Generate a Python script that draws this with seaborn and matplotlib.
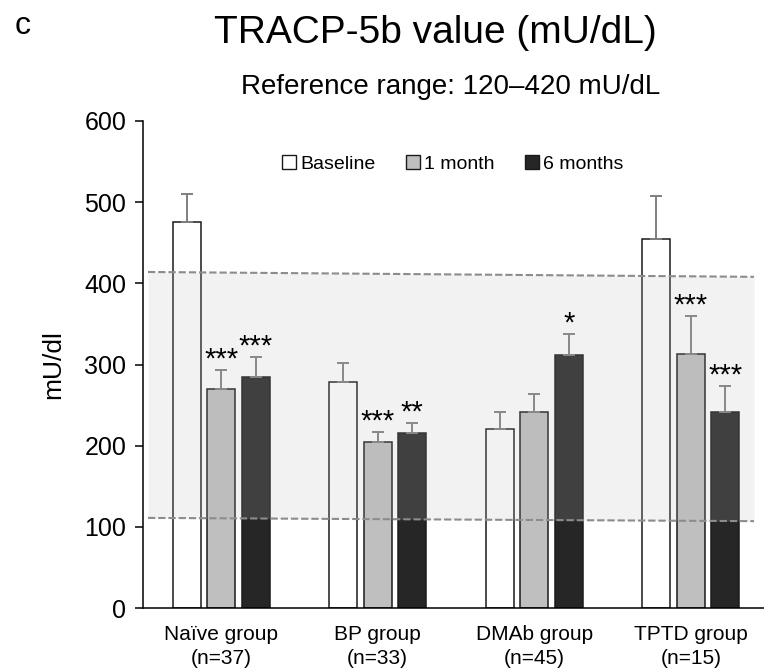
# plot.py - TRACP-5b grouped bar chart

import seaborn as sns
import matplotlib.pyplot as plt
import pandas as pd
import numpy as np
from matplotlib.patches import Patch

# data
groups = ['Naïve group\n(n=37)', 'BP group\n(n=33)', 'DMAb group\n(n=45)', 'TPTD group\n(n=15)']
timepoints = ['Baseline', '1 month', '6 months']
baseline = [475, 278, 220, 455]
month1 = [270, 204, 242, 313]
month6 = [285, 216, 312, 242]
baseline_err = [35, 24, 21, 52]
month1_err = [23, 13, 22, 47]
month6_err = [24, 12, 26, 32]
stars_baseline = ['', '', '', '']
stars_month1 = ['***', '***', '', '***']
stars_month6 = ['***', '**', '*', '***']
ref_upper = [414, 408]   # dashed upper limit, left -> right
ref_lower = [111, 107]   # dashed lower limit, left -> right

colors = ['#ffffff', '#bfbfbf', '#262626']

df = pd.DataFrame({
    'Group': groups * 3,
    'Time': [t for t in timepoints for _ in groups],
    'Value': baseline + month1 + month6,
})

sns.set_style('ticks')
plt.rcParams['font.family'] = ['Liberation Sans', 'DejaVu Sans']
plt.rcParams['text.color'] = 'black'
plt.rcParams['axes.labelcolor'] = 'black'
plt.rcParams['xtick.color'] = 'black'
plt.rcParams['ytick.color'] = 'black'

fig = plt.figure(figsize=(7.64, 6.72), dpi=100)
ax = fig.add_axes([143 / 764, 64 / 672, 626 / 764, 487 / 672])

sns.barplot(data=df, x='Group', y='Value', hue='Time', hue_order=timepoints,
            palette=colors, width=0.661, gap=0.2, errorbar=None,
            edgecolor='#1a1a1a', linewidth=1.1, legend=False, ax=ax, zorder=2)

# error bars (upper only) and significance stars
errs = [baseline_err, month1_err, month6_err]
vals = [baseline, month1, month6]
stars = [stars_baseline, stars_month1, stars_month6]
for cont, v, e, s in zip(ax.containers, vals, errs, stars):
    xs = [b.get_x() + b.get_width() / 2 for b in cont]
    ax.errorbar(xs, v, yerr=[np.zeros(len(v)), e], fmt='none', ecolor='#7f7f7f',
                elinewidth=1.4, capsize=4.2, capthick=1.4, zorder=3)
    for x, top, lab in zip(xs, np.add(v, e), s):
        if lab:
            ax.text(x, top + 3, lab, ha='center', va='baseline', fontsize=21, zorder=6)

# reference range band
xb = [-0.468, 3.404]
ax.fill_between(xb, ref_lower, ref_upper, color='#b7b7b7', alpha=0.18, lw=0, zorder=4)
ax.plot(xb, ref_upper, color='#8c8c8c', lw=1.5, dashes=(3.5, 1.4), zorder=5)
ax.plot(xb, ref_lower, color='#8c8c8c', lw=1.5, dashes=(3.5, 1.4), zorder=5)

ax.set_xlim(-0.5, 3.5)
ax.set_ylim(0, 600)
ax.set_yticks(range(0, 601, 100))
ax.set_xlabel('')
ax.set_ylabel('mU/dl', fontsize=19, labelpad=14)
ax.tick_params(axis='y', labelsize=18, length=6, width=1.1, pad=6)
ax.tick_params(axis='x', labelsize=15, length=0, pad=12)
for lab in ax.get_xticklabels():
    lab.set_linespacing(1.35)
for side in ['top', 'right']:
    ax.spines[side].set_visible(False)
for side in ['left', 'bottom']:
    ax.spines[side].set_linewidth(1.1)
    ax.spines[side].set_color('black')

handles = [Patch(facecolor=c, edgecolor='#1a1a1a', linewidth=1.0) for c in colors]
ax.legend(handles, timepoints, loc='center', bbox_to_anchor=(0.495, 0.912), ncol=3,
          frameon=False, fontsize=14, handlelength=0.7, handleheight=0.7,
          handletextpad=0.2, columnspacing=1.6)

fig.text(15 / 764, 1 - 11 / 672, 'c', fontsize=23, ha='left', va='top')
fig.text(435 / 764, 1 - 43 / 672, 'TRACP-5b value (mU/dL)', fontsize=28,
         ha='center', va='baseline')
fig.text(451 / 764, 1 - 94 / 672, 'Reference range: 120–420 mU/dL', fontsize=20,
         ha='center', va='baseline')

fig.savefig('out.png', dpi=100)
